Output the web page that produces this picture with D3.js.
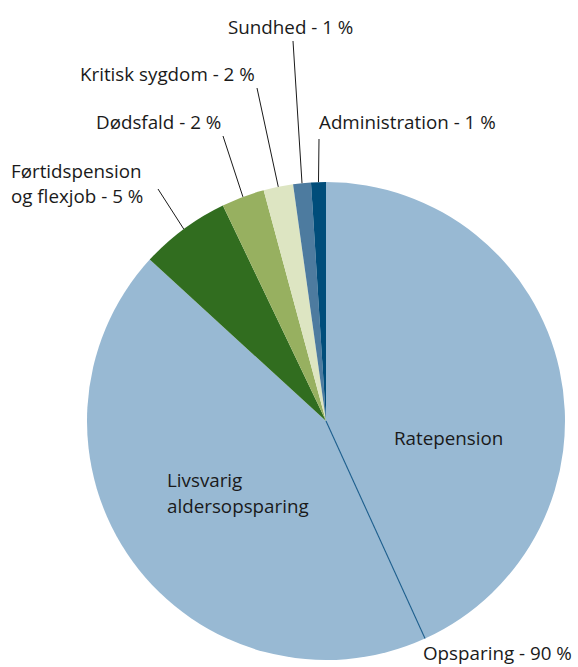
<!DOCTYPE html>
<html>
<head>
<meta charset="utf-8">
<script src="https://cdn.jsdelivr.net/npm/d3@7"></script>
<style>
  body { margin: 0; background: #fff; }
  text { font-family: "Open Sans", "Noto Sans", sans-serif; font-size: 18.8px; fill: #1a1a1a; }
</style>
</head>
<body>
<svg id="chart" width="578" height="667"></svg>
<script>
// slice shares (percent of circle), clockwise from 12 o'clock
const categories = ['Ratepension', 'Livsvarig aldersopsparing', 'Førtidspension og flexjob', 'Dødsfald', 'Kritisk sygdom', 'Sundhed', 'Administration'];
const shares = [43.2, 43.6, 6.1, 2.9, 2.0, 1.2, 1.0];
const colors = ['#98b9d3', '#98b9d3', '#316d1f', '#97b060', '#dde5c2', '#4d7b9f', '#004d7a'];

// outside labels with leader lines (null = label sits inside the slice)
const outerLabels = [null, null, ['Førtidspension', 'og flexjob - 5 %'], ['Dødsfald - 2 %'], ['Kritisk sygdom - 2 %'], ['Sundhed - 1 %'], ['Administration - 1 %']];
const innerLabels = [['Ratepension'], ['Livsvarig', 'aldersopsparing'], null, null, null, null, null];
const totalLabel = 'Opsparing - 90 %';

const svg = d3.select('#chart');
const cx = 326, cy = 421, radius = 239;

const pie = d3.pie().sort(null).value(d => d);
const arcs = pie(shares);
const arc = d3.arc().innerRadius(0).outerRadius(radius);

const g = svg.append('g').attr('transform', 'translate(' + cx + ',' + cy + ')');

g.selectAll('path.slice')
  .data(arcs)
  .enter().append('path')
  .attr('class', 'slice')
  .attr('d', arc)
  .attr('fill', (d, i) => colors[i]);

// line splitting the two savings slices, leading to the total label
const split = arcs[0].endAngle;
g.append('line')
  .attr('x1', 0).attr('y1', 0)
  .attr('x2', radius * Math.sin(split))
  .attr('y2', -radius * Math.cos(split))
  .attr('stroke', '#1b5d8c')
  .attr('stroke-width', 1.1);

svg.append('text')
  .attr('x', 423).attr('y', 660)
  .text(totalLabel);

// inner labels
const innerPos = [[394, 445, 'start'], [167, 487, 'start']];
innerLabels.forEach((lines, i) => {
  if (!lines) return;
  const t = svg.append('text').attr('x', innerPos[i][0]).attr('y', innerPos[i][1]).attr('text-anchor', innerPos[i][2]);
  lines.forEach((s, k) => t.append('tspan').attr('x', innerPos[i][0]).attr('dy', k ? 26 : 0).text(s));
});

// outer label placement: text x, baseline y, leader start
const outerPos = {
  2: { x: 11, y: 178, lx: 158, ly: 189 },
  3: { x: 96, y: 129, lx: 223, ly: 136 },
  4: { x: 80, y: 81, lx: 257, ly: 88 },
  5: { x: 228, y: 34, lx: 293, ly: 41 },
  6: { x: 319, y: 129, lx: 319, ly: 139 }
};

outerLabels.forEach((lines, i) => {
  if (!lines) return;
  const p = outerPos[i];
  const a = (arcs[i].startAngle + arcs[i].endAngle) / 2;
  svg.append('line')
    .attr('x1', p.lx).attr('y1', p.ly)
    .attr('x2', cx + radius * Math.sin(a))
    .attr('y2', cy - radius * Math.cos(a))
    .attr('stroke', '#1a1a1a')
    .attr('stroke-width', 1);
  const t = svg.append('text').attr('x', p.x).attr('y', p.y);
  lines.forEach((s, k) => t.append('tspan').attr('x', p.x).attr('dy', k ? 25 : 0).text(s));
});
</script>
</body>
</html>
